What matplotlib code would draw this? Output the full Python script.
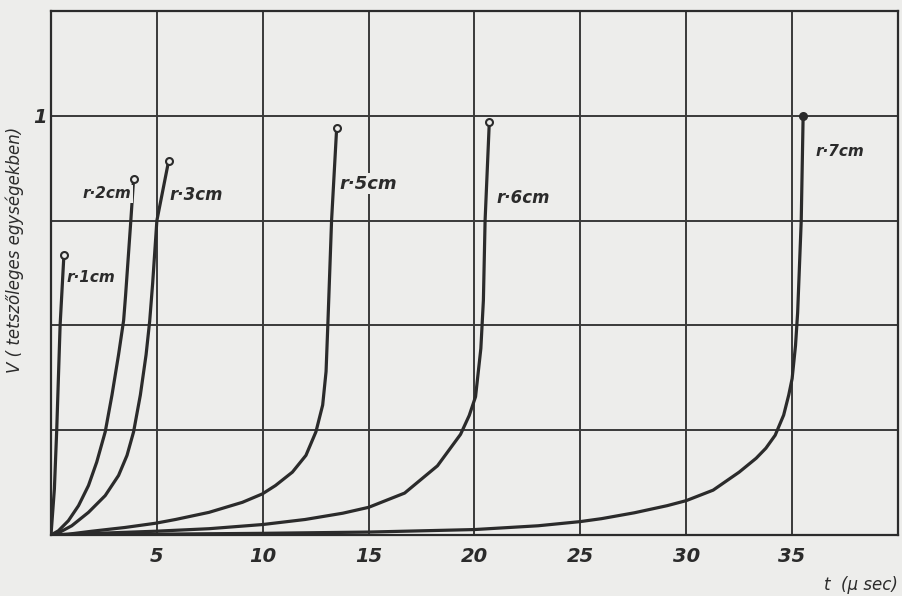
import matplotlib.pyplot as plt

# values (t in microsec, V in arbitrary units)
labels = ['r·1cm', 'r·2cm', 'r·3cm', 'r·5cm', 'r·6cm', 'r·7cm']

t_r1 = [0, 0.16, 0.27, 0.43, 0.61]
v_r1 = [0, 0.11, 0.25, 0.5, 0.668]

t_r2 = [0, 0.35, 0.82, 1.3, 1.77, 2.16, 2.56, 2.88, 3.19, 3.43, 3.52, 3.77, 3.9]
v_r2 = [0, 0.01, 0.034, 0.07, 0.118, 0.174, 0.246, 0.334, 0.43, 0.512, 0.57, 0.75, 0.849]

t_r3 = [0, 0.35, 0.98, 1.77, 2.56, 3.19, 3.59, 3.9, 4.22, 4.49, 4.66, 4.8, 5.0, 5.55]
v_r3 = [0, 0.005, 0.022, 0.054, 0.094, 0.142, 0.19, 0.246, 0.334, 0.43, 0.51, 0.6, 0.75, 0.891]

t_r5 = [0, 0.82, 1.93, 3.5, 4.93, 5.88, 7.46, 9.04, 9.98, 10.6, 11.4, 12.04, 12.51,
        12.83, 12.99, 13.08, 13.25, 13.49]
v_r5 = [0, 0.002, 0.009, 0.018, 0.028, 0.037, 0.054, 0.078, 0.098, 0.118, 0.15, 0.19, 0.246,
        0.31, 0.39, 0.51, 0.75, 0.97]

t_r6 = [0, 4.93, 7.46, 10, 12, 13.78, 15, 16.7, 18.25, 19.34, 19.75, 20.05, 20.3, 20.42, 20.5, 20.7]
v_r6 = [0, 0.009, 0.015, 0.025, 0.037, 0.052, 0.066, 0.1, 0.165, 0.24, 0.285, 0.33, 0.445, 0.56,
        0.75, 0.986]

t_r7 = [0, 5, 10, 15, 20, 23, 25, 26, 27.55, 29.1, 30, 31.27, 32.5, 33.3, 33.76, 34.2,
        34.6, 34.84, 35.0, 35.16, 35.26, 35.33, 35.43, 35.52]
v_r7 = [0, 0.002, 0.004, 0.007, 0.013, 0.022, 0.032, 0.039, 0.053, 0.07, 0.082, 0.107, 0.15,
        0.183, 0.207, 0.238, 0.286, 0.334, 0.373, 0.452, 0.53, 0.62, 0.75, 1.0]

label_pos = [(0.75, 0.614), (1.5, 0.814), (5.6, 0.81), (13.63, 0.838), (21.04, 0.805), (36.1, 0.915)]
label_size = [11, 11, 12, 13, 12, 11]

xtick_vals = [0, 5, 10, 15, 20, 25, 30, 35, 40]
xtick_text = ['', '5', '10', '15', '20', '25', '30', '35', '']
ytick_vals = [0, 0.25, 0.5, 0.75, 1.0, 1.25]
ytick_text = ['', '', '', '', '1', '']

paper = '#ededeb'
ink = '#2b2b2b'

fig = plt.figure(figsize=(9.02, 5.96), dpi=100, facecolor=paper)
ax = fig.add_axes([51/902, 61/596, 847/902, 524/596], facecolor=paper)

ax.set_xlim(0, 40)
ax.set_ylim(0, 1.25)
ax.set_xticks(xtick_vals, xtick_text)
ax.set_yticks(ytick_vals, ytick_text)
ax.tick_params(length=0, colors=ink)
ax.tick_params(axis='x', pad=9)
ax.tick_params(axis='y', pad=3)
for lab in ax.get_xticklabels() + ax.get_yticklabels():
    lab.set_fontsize(14)
    lab.set_fontweight('bold')
    lab.set_fontstyle('italic')
ax.grid(True, color='#3a3a3a', linewidth=1.4)
ax.set_axisbelow(True)
for s in ax.spines.values():
    s.set_color(ink)
    s.set_linewidth(1.6)

curves = [(t_r1, v_r1), (t_r2, v_r2), (t_r3, v_r3), (t_r5, v_r5), (t_r6, v_r6), (t_r7, v_r7)]
for i, (t, v) in enumerate(curves):
    ax.plot(t, v, color=ink, lw=2.3, solid_joinstyle='round', zorder=3)
    face = ink if i == len(curves) - 1 else paper
    ax.plot(t[-1:], v[-1:], 'o', ms=5, mec=ink, mfc=face, mew=1.5, zorder=4)
    ax.text(label_pos[i][0], label_pos[i][1], labels[i], fontsize=label_size[i],
            fontweight='bold', fontstyle='italic', color=ink, ha='left', va='center',
            zorder=5, bbox=dict(facecolor=paper, edgecolor='none', pad=1))

fig.text(15/902, 1 - 250/596, 'V ( tetszőleges egységekben)', rotation=90,
         fontsize=12, fontstyle='italic', color=ink, ha='center', va='center')
fig.text(898/902, 1 - 585/596, 't  (μ sec)', fontsize=12, fontstyle='italic',
         color=ink, ha='right', va='center')

fig.savefig('out.png', dpi=100, facecolor=paper)
